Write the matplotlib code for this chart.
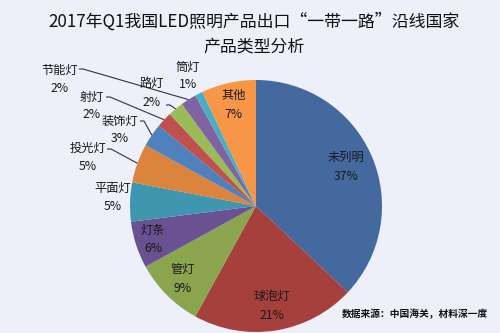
import matplotlib
matplotlib.use("Agg")
import matplotlib.pyplot as plt
import numpy as np
from matplotlib.patches import Wedge

plt.rcParams['font.family'] = ['Noto Sans CJK SC', 'DejaVu Sans']

categories = ['未列明', '球泡灯', '管灯', '灯条', '平面灯', '投光灯', '装饰灯', '射灯', '路灯', '节能灯', '筒灯', '其他']
values = [37, 21, 9, 6, 5, 5, 3, 2, 2, 2, 1, 7]
pct_labels = ['37%', '21%', '9%', '6%', '5%', '5%', '3%', '2%', '2%', '2%', '1%', '7%']
colors = ['#44699F', '#A5403D', '#8BA54F', '#6A5192', '#3E97AF', '#DB843D',
          '#4F81BD', '#C0504D', '#9BBB59', '#8064A2', '#4BACC6', '#F79646']

title = '2017年Q1我国LED照明产品出口“一带一路”沿线国家\n产品类型分析'
source = '数据来源：中国海关，材料深一度'

W, H = 500, 333
fig = plt.figure(figsize=(5, 3.33), dpi=100)
bg = '#EDEFF9'
fig.patch.set_facecolor(bg)
ax = fig.add_axes([0, 0, 1, 1])
ax.set_facecolor(bg)
ax.set_xlim(0, W)
ax.set_ylim(H, 0)
ax.axis('off')

cx, cy, R = 256, 206, 126

total = sum(values)
start = 90.0
mids = []
for v, c in zip(values, colors):
    span = 360.0 * v / total
    end = start - span
    w = Wedge((cx, cy), R, -start, -end, facecolor=c, edgecolor='none')
    ax.add_patch(w)
    mids.append((start + end) / 2)
    start = end

lab_fs = 8.8
txt_col = '#1a1a1a'
inside = {'未列明': 0.78, '球泡灯': 0.8, '管灯': 0.82, '灯条': 0.86, '其他': 0.82}
outside = {
    '平面灯': (113, 188, 207, None),
    '投光灯': (88, 148, 166, (107, 149)),
    '装饰灯': (120, 121, 139, (140, 121)),
    '射灯': (92, 97, 114, (106, 97)),
    '路灯': (152, 83, 103, (166, 105)),
    '节能灯': (60, 70, 88, (79, 69)),
    '筒灯': (188, 67, 85, None),
}
for name, pct, m in zip(categories, pct_labels, mids):
    th = np.deg2rad(m)
    ex, ey = cx + R * np.cos(th), cy - R * np.sin(th)
    if name in inside:
        r = inside[name] * R
        lx, ly = cx + r * np.cos(th), cy - r * np.sin(th)
        ax.text(lx, ly - 9.5, name, ha='center', va='center', fontsize=lab_fs, color=txt_col)
        ax.text(lx, ly + 9.5, pct, ha='center', va='center', fontsize=lab_fs, color=txt_col)
    else:
        lx, y1, y2, anchor = outside[name]
        ax.text(lx, y1, name, ha='center', va='center', fontsize=lab_fs, color=txt_col)
        ax.text(lx, y2, pct, ha='center', va='center', fontsize=lab_fs, color=txt_col)
        if anchor is not None:
            ax.plot([anchor[0], anchor[0] + 4, ex], [anchor[1], anchor[1], ey],
                    color='#333333', lw=0.8, solid_capstyle='butt')

ax.text(254, 34, title, ha='center', va='center', fontsize=12.2, color='#111111',
        linespacing=1.45)
ax.text(415, 314, source, ha='center', va='center', fontsize=7, fontweight='bold', color='#111111')

fig.savefig('out.png', dpi=100, facecolor=bg)
